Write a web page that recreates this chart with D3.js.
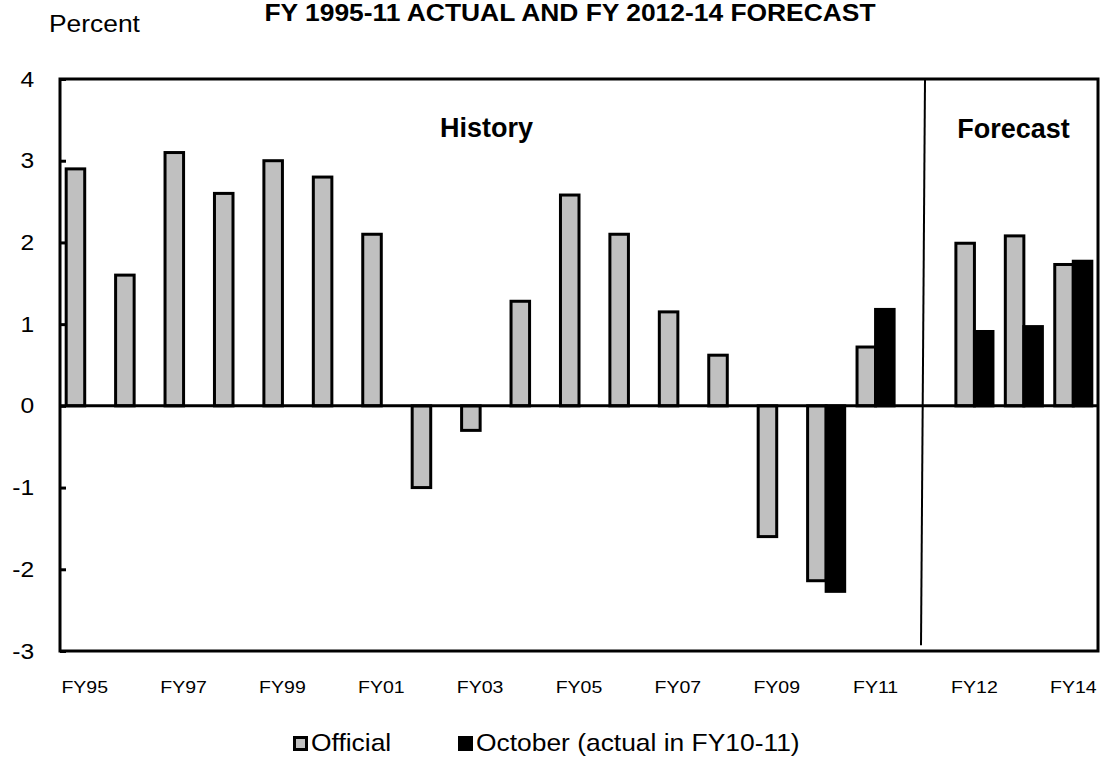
<!DOCTYPE html>
<html>
<head>
<meta charset="utf-8">
<script src="https://cdn.jsdelivr.net/npm/d3@7.9.0/dist/d3.min.js"></script>
<style>
  body { margin: 0; background: #fff; }
  text { font-family: Arial, "Liberation Sans", sans-serif; fill: #000; }
</style>
</head>
<body>
<div id="chart"></div>
<script>
// categories (one empty slot between history and forecast)
const years = ["FY95", "FY96", "FY97", "FY98", "FY99", "FY00", "FY01", "FY02", "FY03",
  "FY04", "FY05", "FY06", "FY07", "FY08", "FY09", "FY10", "FY11", "gap", "FY12", "FY13", "FY14"];
const official = [2.9, 1.6, 3.1, 2.6, 3.0, 2.8, 2.1, -1.0, -0.3,
  1.28, 2.58, 2.1, 1.15, 0.62, -1.6, -2.14, 0.72, null, 1.99, 2.08, 1.73];
const october = [null, null, null, null, null, null, null, null, null,
  null, null, null, null, null, null, -2.27, 1.18, null, 0.91, 0.97, 1.77];
const xTickLabels = ["FY95", "FY97", "FY99", "FY01", "FY03", "FY05", "FY07", "FY09", "FY11", "FY12", "FY14"];
const yTicks = [-3, -2, -1, 0, 1, 2, 3, 4];
const seriesNames = ["Official", "October (actual in FY10-11)"];
const seriesColors = ["#c0c0c0", "#000000"];

const W = 1101, H = 760;
const plotLeft = 60, plotRight = 1098, plotTop = 79, plotBottom = 651;

const svg = d3.select("#chart").append("svg")
  .attr("width", W)
  .attr("height", H);

svg.append("rect").attr("width", W).attr("height", H).attr("fill", "#fff");

const x = d3.scaleBand()
  .domain(years)
  .range([plotLeft, plotRight])
  .paddingInner(0.25)
  .paddingOuter(0.125);

const x1 = d3.scaleBand()
  .domain(["official", "october"])
  .range([0, x.bandwidth()]);

const y = d3.scaleLinear()
  .domain([-3, 4])
  .range([plotBottom, plotTop]);

// stretch text a bit horizontally, like the original renderer did
function stretch(sel, k) {
  sel.attr("transform", `scale(${k},1)`);
}

// bars
const rows = years.map((c, i) => ({ c, official: official[i], october: october[i] }));

["official", "october"].forEach((key, s) => {
  svg.append("g")
    .selectAll("rect")
    .data(rows.filter(d => d[key] !== null))
    .join("rect")
    .attr("x", d => x(d.c) + x1(key))
    .attr("width", x1.bandwidth())
    .attr("y", d => y(Math.max(0, d[key])))
    .attr("height", d => Math.abs(y(d[key]) - y(0)))
    .attr("fill", seriesColors[s])
    .attr("stroke", "#000")
    .attr("stroke-width", 3);
});

// zero line
svg.append("line")
  .attr("x1", plotLeft).attr("x2", plotRight)
  .attr("y1", y(0)).attr("y2", y(0))
  .attr("stroke", "#000")
  .attr("stroke-width", 3);

// divider between history and forecast
const gapX = x("gap") + x.bandwidth() / 2;
svg.append("line")
  .attr("x1", gapX).attr("y1", y(4))
  .attr("x2", gapX - 4).attr("y2", y(-2.93))
  .attr("stroke", "#000")
  .attr("stroke-width", 2);

// frame
svg.append("rect")
  .attr("x", plotLeft).attr("y", plotTop)
  .attr("width", plotRight - plotLeft).attr("height", plotBottom - plotTop)
  .attr("fill", "none")
  .attr("stroke", "#000")
  .attr("stroke-width", 3);

// y axis
const yAxis = svg.append("g")
  .attr("transform", `translate(${plotLeft},0)`)
  .call(d3.axisLeft(y).tickValues(yTicks).tickFormat(d => String(d))
    .tickSizeInner(-6).tickSizeOuter(0).tickPadding(23));
yAxis.select(".domain").remove();
yAxis.selectAll(".tick line").attr("stroke", "#000").attr("stroke-width", 3);
yAxis.selectAll(".tick text")
  .style("font-size", "22px")
  .attr("font-family", null)
  .call(stretch, 1.12);

// x axis
const xAxis = svg.append("g")
  .attr("transform", `translate(0,${plotBottom})`)
  .call(d3.axisBottom(x).tickValues(xTickLabels).tickSize(0).tickPadding(31));
xAxis.select(".domain").remove();
xAxis.selectAll(".tick text")
  .style("font-size", "16px")
  .attr("font-family", null)
  .call(stretch, 1.22);

// titles
svg.append("text")
  .attr("transform", `translate(570,21) scale(1.1,1)`)
  .attr("text-anchor", "middle")
  .style("font-size", "24px")
  .style("font-weight", "bold")
  .text("FY 1995-11 ACTUAL AND FY 2012-14 FORECAST");

svg.append("text")
  .attr("transform", `translate(49,32) scale(1.1,1)`)
  .style("font-size", "24px")
  .text("Percent");

svg.append("text")
  .attr("x", (plotLeft + gapX) / 2 - 6)
  .attr("y", 137)
  .attr("text-anchor", "middle")
  .style("font-size", "27px")
  .style("font-weight", "bold")
  .text("History");

svg.append("text")
  .attr("x", (gapX + plotRight) / 2 + 2)
  .attr("y", 138)
  .attr("text-anchor", "middle")
  .style("font-size", "27px")
  .style("font-weight", "bold")
  .text("Forecast");

// legend
const legendX = [293, 458];
const legend = svg.append("g");
seriesNames.forEach((name, i) => {
  legend.append("rect")
    .attr("x", legendX[i] + 1.5).attr("y", 737.5)
    .attr("width", 12).attr("height", 12)
    .attr("fill", seriesColors[i])
    .attr("stroke", "#000")
    .attr("stroke-width", 3);
  legend.append("text")
    .attr("transform", `translate(${legendX[i] + 18},751) scale(1.1,1)`)
    .style("font-size", "24px")
    .text(name);
});
</script>
</body>
</html>
